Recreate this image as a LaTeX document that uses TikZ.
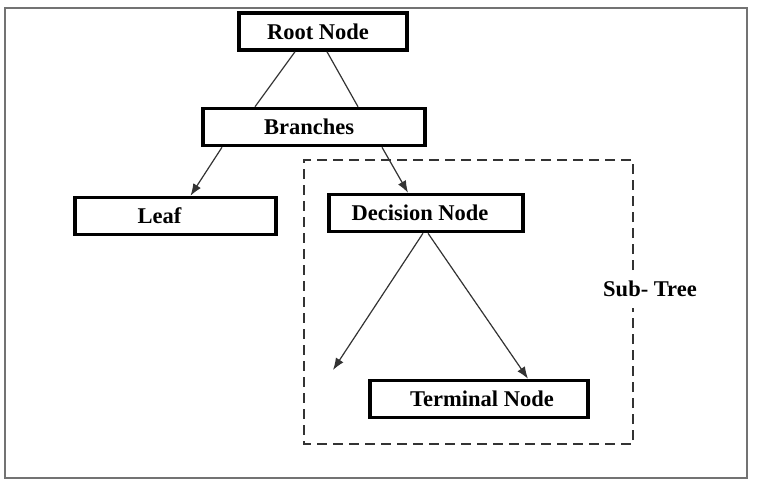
\documentclass[tikz,border=0pt]{standalone}
\usepackage{fontspec}
\setmainfont{Liberation Serif}
\usetikzlibrary{arrows.meta}
\begin{document}
\begin{tikzpicture}[x=1pt,y=-1pt,>={Latex[length=12pt,width=9pt]},
    font=\fontsize{22.5}{27}\selectfont\bfseries,
    box/.style={draw,line width=3.5pt,minimum height=37pt,inner sep=0pt},
    link/.style={draw=black!80,line width=1.2pt}]
                \useasboundingbox (0,0) rectangle (757,488);
                \draw[black!55,line width=2pt] (5,8) rectangle (747,478);
                \node[box,minimum width=168pt] (root) at (323,31.5) {Root Node\kern10pt};
                \node[box,minimum width=222pt] (branches) at (314,127) {Branches\kern10pt};
                \node[box,minimum width=201pt] (leaf) at (175.5,216) {Leaf\kern32pt};
                \node[box,minimum width=194pt] (decision) at (426,213) {Decision Node\kern12pt};
                \node[box,minimum width=218pt] (terminal) at (479,399) {\kern6pt Terminal Node};
                \node (subtree) at (650,289) {Sub- Tree};
                % dashed frame of the sub-tree, open where the label sits
                \draw[black!80,line width=1.5pt,dash pattern=on 10pt off 6pt]
                    (633,270) -- (633,160) -- (304,160) -- (304,444) -- (633,444) -- (633,308);
                \coordinate (open) at (333,370);
                \draw[link] ([xshift=-28pt]root.south) -- ([xshift=-59pt]branches.north);
                \draw[link] ([xshift=4pt]root.south) -- ([xshift=44pt]branches.north);
                \draw[link,->] ([xshift=-92pt]branches.south) -- ([xshift=15pt]leaf.north);
                \draw[link,->] ([xshift=68pt]branches.south) -- ([xshift=-18pt]decision.north);
                \draw[link,->] ([xshift=-3pt]decision.south) -- (open);
                \draw[link,->] ([xshift=2pt]decision.south) -- ([xshift=49pt]terminal.north);
            \end{tikzpicture}
\end{document}
